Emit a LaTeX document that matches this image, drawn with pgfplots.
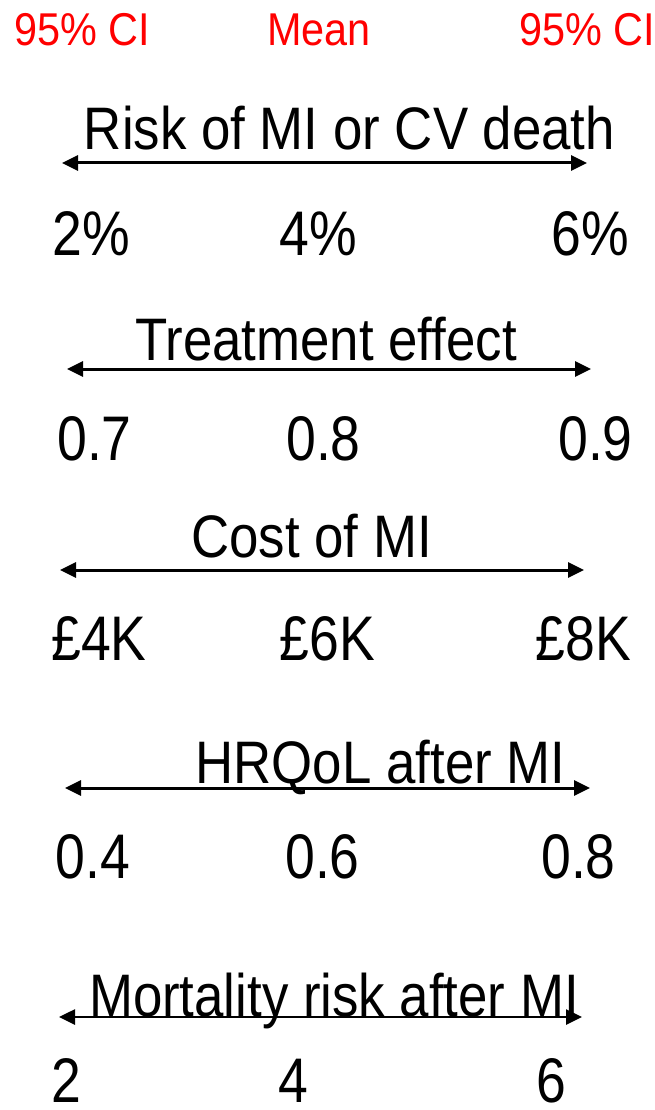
\documentclass[border=0pt]{standalone}
\usepackage{fontspec}
\setmainfont{Liberation Sans}
\usepackage{graphicx}
\usepackage{pgfplots}
\pgfplotsset{compat=1.18}
\usetikzlibrary{arrows.meta}
\definecolor{cired}{RGB}{255,0,0}
\newcommand{\redt}[1]{\scalebox{0.9}[1]{\fontsize{46}{50}\selectfont #1}}
\newcommand{\ttlt}[1]{\scalebox{0.88}[1]{\fontsize{60}{66}\selectfont #1}}
\newcommand{\numt}[1]{\scalebox{0.85}[1]{\fontsize{63}{70}\selectfont #1}}
\tikzset{rangearrow/.style={line width=3pt,black,no markers,
  {Triangle[length=16pt,width=15pt]}-{Triangle[length=16pt,width=15pt]}}}
\begin{document}
\begin{tikzpicture}
\begin{axis}[width=654pt,height=1110pt,scale only axis,
  xmin=0,xmax=654,ymin=0,ymax=1110,y dir=reverse,hide axis,clip=false]
\path (axis cs:0,0) rectangle (axis cs:654,1110);
% arrows: 95% CI range of each parameter
\addplot[rangearrow] coordinates {(62,163) (587,163)};
\addplot[rangearrow] coordinates {(67,369) (591,369)};
\addplot[rangearrow] coordinates {(60,570) (584,570)};
\addplot[rangearrow] coordinates {(65,788) (590,788)};
\addplot[rangearrow,line width=2.6pt] coordinates {(59,1017) (582,1017)};
\tikzset{every node/.style={anchor=base,inner sep=0pt}}
% header
\node[text=cired] at (axis cs:82,46) {\redt{95\% CI}};
\node[text=cired] at (axis cs:319,46) {\redt{Mean}};
\node[text=cired] at (axis cs:587,46) {\redt{95\% CI}};
% row 1
\node at (axis cs:349.5,150) {\ttlt{Risk of MI or CV death}};
\node at (axis cs:91.5,255) {\numt{2\%}};
\node at (axis cs:318.5,255) {\numt{4\%}};
\node at (axis cs:590,255) {\numt{6\%}};
% row 2
\node at (axis cs:326,360) {\ttlt{Treatment effect}};
\node at (axis cs:94.5,460) {\numt{0.7}};
\node at (axis cs:323.5,460) {\numt{0.8}};
\node at (axis cs:595.5,460) {\numt{0.9}};
% row 3
\node at (axis cs:311.5,557) {\ttlt{Cost of MI}};
\node at (axis cs:99,660) {\numt{£4K}};
\node at (axis cs:327.5,660) {\numt{£6K}};
\node at (axis cs:583.5,660) {\numt{£8K}};
% row 4
\node at (axis cs:380.5,783) {\ttlt{HRQoL after MI}};
\node at (axis cs:93,878) {\numt{0.4}};
\node at (axis cs:322.5,878) {\numt{0.6}};
\node at (axis cs:578.5,878) {\numt{0.8}};
% row 5
\node at (axis cs:334,1016) {\ttlt{Mortality risk after MI}};
\node at (axis cs:66,1102) {\numt{2}};
\node at (axis cs:293.5,1102) {\numt{4}};
\node at (axis cs:551,1102) {\numt{6}};
\end{axis}
\end{tikzpicture}
\end{document}
